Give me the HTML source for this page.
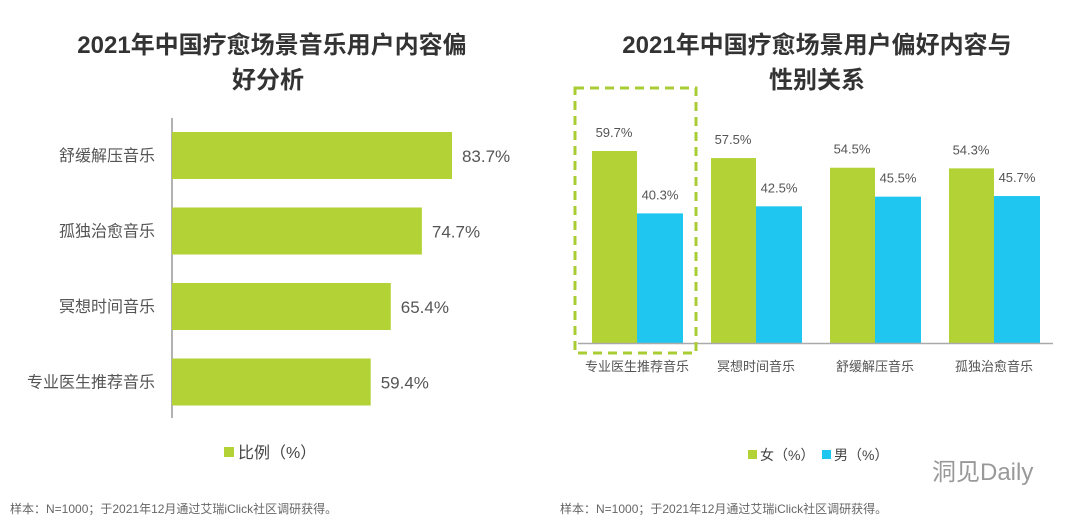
<!DOCTYPE html>
<html><head><meta charset="utf-8"><style>
body{margin:0;background:#fff;}
svg text{font-family:"Liberation Sans","Noto Sans CJK SC",sans-serif;}
</style></head><body>
<svg width="1080" height="521" viewBox="0 0 1080 521" xmlns="http://www.w3.org/2000/svg" id="root">
<text x="272" y="53" text-anchor="middle" font-size="24" font-weight="bold" fill="#333">2021年中国疗愈场景音乐用户内容偏</text>
<text x="268" y="88" text-anchor="middle" font-size="24" font-weight="bold" fill="#333">好分析</text>
<text x="817" y="53" text-anchor="middle" font-size="24" font-weight="bold" fill="#333">2021年中国疗愈场景用户偏好内容与</text>
<text x="817" y="88" text-anchor="middle" font-size="24" font-weight="bold" fill="#333">性别关系</text>
<g id="left"></g>
<g id="right"></g>
<rect x="575" y="88" width="121" height="265" fill="none" stroke="#a9cc33" stroke-width="3" stroke-dasharray="9,6"/>
<rect x="224" y="447" width="10" height="10" fill="#b2d235"/>
<text x="238" y="458" font-size="16" fill="#444">比例（%）</text>
<rect x="748" y="450" width="9" height="9" fill="#b2d235"/>
<text x="760" y="460" font-size="14" fill="#444">女（%）</text>
<rect x="822" y="450" width="9" height="9" fill="#1fc6ef"/>
<text x="834" y="460" font-size="14" fill="#444">男（%）</text>
<text x="932" y="480" font-size="24" fill="#999">洞见Daily</text>
<text x="10" y="513" font-size="12" fill="#666">样本：N=1000；于2021年12月通过艾瑞iClick社区调研获得。</text>
<text x="560" y="513" font-size="12" fill="#666">样本：N=1000；于2021年12月通过艾瑞iClick社区调研获得。</text>
</svg>
<script>
const leftCats=["舒缓解压音乐","孤独治愈音乐","冥想时间音乐","专业医生推荐音乐"];
const leftVals=[83.7,74.7,65.4,59.4];
const rightCats=["专业医生推荐音乐","冥想时间音乐","舒缓解压音乐","孤独治愈音乐"];
const femaleVals=[59.7,57.5,54.5,54.3];
const maleVals=[40.3,42.5,45.5,45.7];
const NS="http://www.w3.org/2000/svg";
function mk(p,t,a){const e=document.createElementNS(NS,t);for(const k in a)e.setAttribute(k,a[k]);p.appendChild(e);return e;}
const L=document.getElementById('left');
const lx=v=>172+v*3.345;
const ax=mk(L,'line',{x1:172,y1:118,x2:172,y2:418,stroke:'#999','stroke-width':1.5});


leftCats.forEach((c,i)=>{
 const y=132+i*75.5;
 const r=mk(L,'rect',{x:172,y:y,width:lx(leftVals[i])-172,height:47,fill:'#b2d235'});
 
 
 const t=mk(L,'text',{x:155,y:y+29,'text-anchor':'end','font-size':16,fill:'#555'});t.textContent=c;
 
 
 const v=mk(L,'text',{x:lx(leftVals[i])+10,y:y+30,'font-size':17,fill:'#555'});v.textContent=leftVals[i].toFixed(1)+'%';
 
 
});
const R=document.getElementById('right');
const base=343,sc=3.216;
const ry=v=>base-v*sc;
rightCats.forEach((c,i)=>{
 const x=592+i*119;
 const g=mk(R,'rect',{x:x,y:ry(femaleVals[i]),width:45,height:base-ry(femaleVals[i]),fill:'#b2d235'});
 
 
 const b=mk(R,'rect',{x:x+45,y:ry(maleVals[i]),width:46,height:base-ry(maleVals[i]),fill:'#1fc6ef'});
 
 
 const ft=mk(R,'text',{x:x+22,y:ry(femaleVals[i])-14,'text-anchor':'middle','font-size':13,fill:'#555'});ft.textContent=femaleVals[i].toFixed(1)+'%';
 
 
 const mt=mk(R,'text',{x:x+68,y:ry(maleVals[i])-14,'text-anchor':'middle','font-size':13,fill:'#555'});mt.textContent=maleVals[i].toFixed(1)+'%';
 
 
 const ct=mk(R,'text',{x:x+45,y:371,'text-anchor':'middle','font-size':13,fill:'#555'});ct.textContent=c;
 
 
});
const bl=mk(R,'line',{x1:578,y1:343.5,x2:1053,y2:343.5,stroke:'#aaa','stroke-width':1.5});


</script>
</body></html>
